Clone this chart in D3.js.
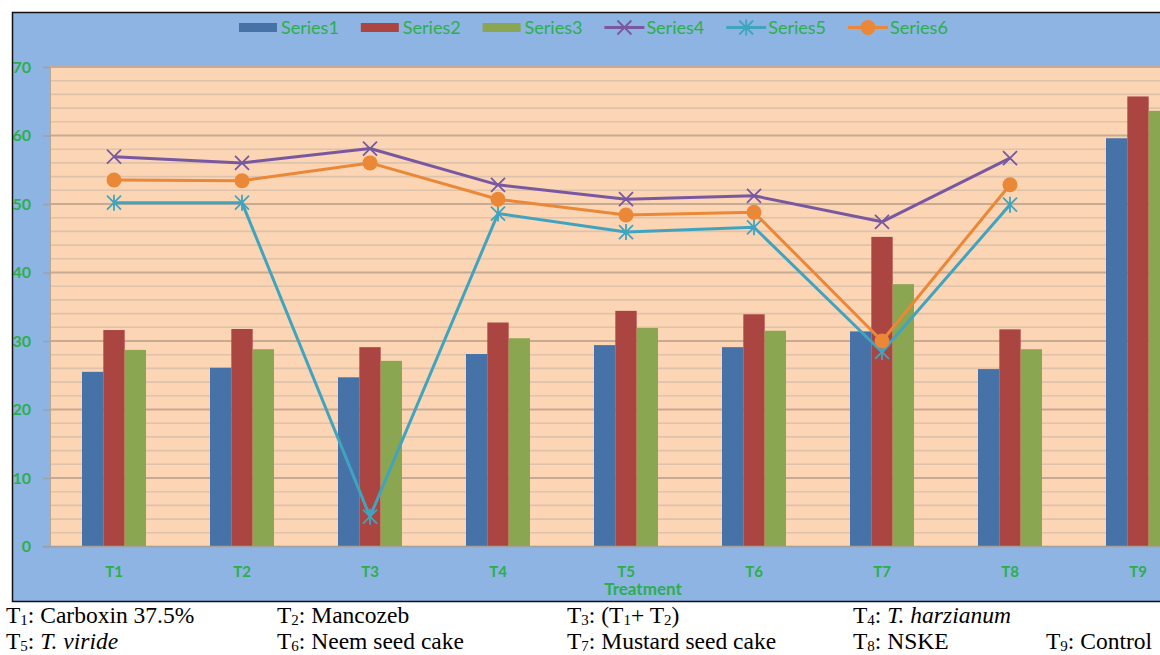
<!DOCTYPE html>
<html>
<head>
<meta charset="utf-8">
<script src="https://cdn.jsdelivr.net/npm/d3@7/dist/d3.min.js"></script>
<style>
  html, body { margin: 0; padding: 0; background: #ffffff; }
  svg { display: block; }
</style>
</head>
<body>
<div id="chart"></div>
<script>
// Treatment categories and series values
const categories = ["T1", "T2", "T3", "T4", "T5", "T6", "T7", "T8", "T9"];
const series1 = [25.5, 26.1, 24.7, 28.1, 29.4, 29.1, 31.4, 25.9, 59.6];
const series2 = [31.6, 31.75, 29.1, 32.7, 34.4, 33.9, 45.2, 31.7, 65.7];
const series3 = [28.7, 28.8, 27.1, 30.4, 31.9, 31.5, 38.3, 28.8, 63.6];
const series4 = [56.9, 56.0, 58.1, 52.8, 50.7, 51.2, 47.4, 56.7, null];
const series5 = [50.2, 50.2, 4.35, 48.6, 45.9, 46.6, 28.4, 49.9, null];
const series6 = [53.5, 53.4, 56.0, 50.7, 48.4, 48.8, 30.0, 52.8, null];
const yTicks = [0, 10, 20, 30, 40, 50, 60, 70];
const xTitle = "Treatment";

// Key of treatments printed under the chart ("_n" = subscript, *...* = italic)
const keyRow1 = ["T_1: Carboxin 37.5%", "T_2: Mancozeb", "T_3: (T_1+ T_2)", "T_4: *T. harzianum*"];
const keyRow2 = ["T_5: *T. viride*", "T_6: Neem seed cake", "T_7: Mustard seed cake", "T_8: NSKE", "T_9: Control"];

const barSeries = [
  { name: "Series1", values: series1, color: "#4672A8" },
  { name: "Series2", values: series2, color: "#AA4542" },
  { name: "Series3", values: series3, color: "#8AA650" }
];
const lineSeries = [
  { name: "Series4", values: series4, color: "#7858A0", marker: "x" },
  { name: "Series5", values: series5, color: "#41A4BF", marker: "star" },
  { name: "Series6", values: series6, color: "#EA8838", marker: "circle" }
];

const W = 1160, H = 655;
const green = "#2BAF4B";
const uiFont = "Lato, 'Open Sans', sans-serif";

const svg = d3.select("#chart").append("svg")
  .attr("width", W).attr("height", H)
  .attr("viewBox", `0 0 ${W} ${H}`);

svg.append("rect").attr("width", W).attr("height", H).attr("fill", "#ffffff");

// Chart area (clipped at the right edge)
const defs = svg.append("defs");
defs.append("clipPath").attr("id", "chartClip")
  .append("rect").attr("x", 12).attr("y", 12).attr("width", W - 12).attr("height", 590);

const chart = svg.append("g").attr("clip-path", "url(#chartClip)");
chart.append("rect").attr("x", 12).attr("y", 12).attr("width", W).attr("height", 590)
  .attr("fill", "#8EB4E3");

// Scales
const plotLeft = 50, plotTop = 67, plotBottom = 546.5, bandW = 128;
const x = d3.scaleBand().domain(categories)
  .range([plotLeft, plotLeft + bandW * categories.length]).padding(0);
const xInner = d3.scaleBand().domain(barSeries.map(s => s.name))
  .range([bandW / 4, bandW * 3 / 4]).padding(0);
const y = d3.scaleLinear().domain([0, 70]).range([plotBottom, plotTop]);
const plotRight = plotLeft + bandW * categories.length;

// Plot area background
chart.append("rect")
  .attr("x", plotLeft).attr("y", plotTop)
  .attr("width", plotRight - plotLeft).attr("height", plotBottom - plotTop)
  .attr("fill", "#FCD5B5");

// Minor and major gridlines
const minorTicks = d3.range(2, 70, 2).filter(v => v % 10 !== 0);
chart.append("g").selectAll("line").data(minorTicks).join("line")
  .attr("x1", plotLeft).attr("x2", plotRight)
  .attr("y1", d => y(d)).attr("y2", d => y(d))
  .attr("stroke", "#DEC2AA").attr("stroke-width", 1.6);
chart.append("g").selectAll("line").data(yTicks.filter(v => v > 0)).join("line")
  .attr("x1", plotLeft).attr("x2", plotRight)
  .attr("y1", d => y(d)).attr("y2", d => y(d))
  .attr("stroke", "#C8AA92").attr("stroke-width", 2);

// Y axis
const yAxis = d3.axisLeft(y).tickValues(yTicks).tickSize(7).tickPadding(12).tickFormat(d3.format("d"));
const yAxisG = chart.append("g").attr("transform", `translate(${plotLeft},0)`).call(yAxis);
yAxisG.select(".domain").attr("stroke", "#B4A89C").attr("stroke-width", 1);
yAxisG.selectAll(".tick line").attr("stroke", "#A0A0A0").attr("stroke-width", 1.5);
yAxisG.selectAll(".tick text")
  .attr("fill", green).attr("font-family", uiFont).attr("font-size", 16).attr("font-weight", 700);

// Bars
const groups = chart.append("g").selectAll("g").data(categories).join("g")
  .attr("transform", d => `translate(${x(d)},0)`);
barSeries.forEach(s => {
  groups.append("rect")
    .attr("x", xInner(s.name))
    .attr("width", xInner.bandwidth())
    .attr("y", (d, i) => y(s.values[i]))
    .attr("height", (d, i) => y(0) - y(s.values[i]))
    .attr("fill", s.color);
});

// X axis
const xAxis = d3.axisBottom(x).tickSize(0).tickPadding(20);
const xAxisG = chart.append("g").attr("transform", `translate(0,${plotBottom})`).call(xAxis);
xAxisG.select(".domain").attr("stroke", "#A0A0A0").attr("stroke-width", 1.5)
  .attr("d", `M${plotLeft - 7},0H${plotRight}`);
xAxisG.selectAll(".tick text")
  .attr("fill", green).attr("font-family", uiFont).attr("font-size", 15).attr("font-weight", 700);

chart.append("text")
  .attr("x", 643).attr("y", 595)
  .attr("text-anchor", "middle")
  .attr("fill", green).attr("font-family", uiFont).attr("font-size", 17).attr("font-weight", 700)
  .text(xTitle);

// Marker shapes
function drawMarker(g, type, color, cx, cy) {
  const r = 7;
  if (type === "circle") {
    g.append("circle").attr("cx", cx).attr("cy", cy).attr("r", 7.5).attr("fill", color);
  } else {
    const p = g.append("path").attr("fill", "none").attr("stroke", color).attr("stroke-width", 1.8);
    let d = `M${cx - r},${cy - r}L${cx + r},${cy + r}M${cx - r},${cy + r}L${cx + r},${cy - r}`;
    if (type === "star") d += `M${cx},${cy - r - 1}L${cx},${cy + r + 1}`;
    p.attr("d", d);
  }
}

// Lines with markers
const lineGen = d3.line()
  .defined(d => d.v != null)
  .x(d => x(d.c) + x.bandwidth() / 2)
  .y(d => y(d.v));
lineSeries.forEach(s => {
  const pts = categories.map((c, i) => ({ c, v: s.values[i] }));
  const g = chart.append("g");
  g.append("path").datum(pts).attr("d", lineGen)
    .attr("fill", "none").attr("stroke", s.color).attr("stroke-width", 3)
    .attr("stroke-linejoin", "round");
  pts.filter(p => p.v != null).forEach(p =>
    drawMarker(g, s.marker, s.color, x(p.c) + x.bandwidth() / 2, y(p.v)));
});

// Legend
const legend = chart.append("g");
const legendItems = barSeries.map(s => ({ ...s, kind: "bar" }))
  .concat(lineSeries.map(s => ({ ...s, kind: "line" })));
legendItems.forEach((s, i) => {
  const lx = 239 + i * 121.8, ly = 27.5;
  const g = legend.append("g");
  if (s.kind === "bar") {
    g.append("rect").attr("x", lx).attr("y", ly - 4.5).attr("width", 38).attr("height", 9).attr("fill", s.color);
  } else {
    g.append("line").attr("x1", lx).attr("x2", lx + 40).attr("y1", ly).attr("y2", ly)
      .attr("stroke", s.color).attr("stroke-width", 3);
    drawMarker(g, s.marker, s.color, lx + 20, ly);
  }
  g.append("text").attr("x", lx + 42).attr("y", ly + 6)
    .attr("fill", green).attr("font-family", uiFont).attr("font-size", 18)
    .text(s.name);
});

// Frame of the chart area
svg.append("path")
  .attr("d", `M${W},12.5H12.5V601.5H${W}`)
  .attr("fill", "none").attr("stroke", "#111").attr("stroke-width", 1.5);

// Treatment key
function keyLine(str, px, py) {
  const t = svg.append("text").attr("x", px).attr("y", py)
    .attr("font-family", "'Liberation Serif', 'Times New Roman', serif")
    .attr("font-size", 23.5).attr("fill", "#000");
  const tokens = str.split(/(_\d|\*[^*]+\*)/).filter(s => s.length);
  let lowered = false;
  tokens.forEach(tok => {
    const span = t.append("tspan");
    if (tok.startsWith("_")) {
      span.attr("font-size", 15).attr("dy", lowered ? 0 : 2).text(tok.slice(1));
      lowered = true;
    } else {
      if (lowered) { span.attr("dy", -2); lowered = false; }
      if (tok.startsWith("*")) span.attr("font-style", "italic").text(tok.slice(1, -1));
      else span.text(tok);
    }
  });
}
const col = [6, 277, 567, 853, 1046];
keyRow1.forEach((s, i) => keyLine(s, col[i], 623));
keyRow2.forEach((s, i) => keyLine(s, col[i], 649));
</script>
</body>
</html>
